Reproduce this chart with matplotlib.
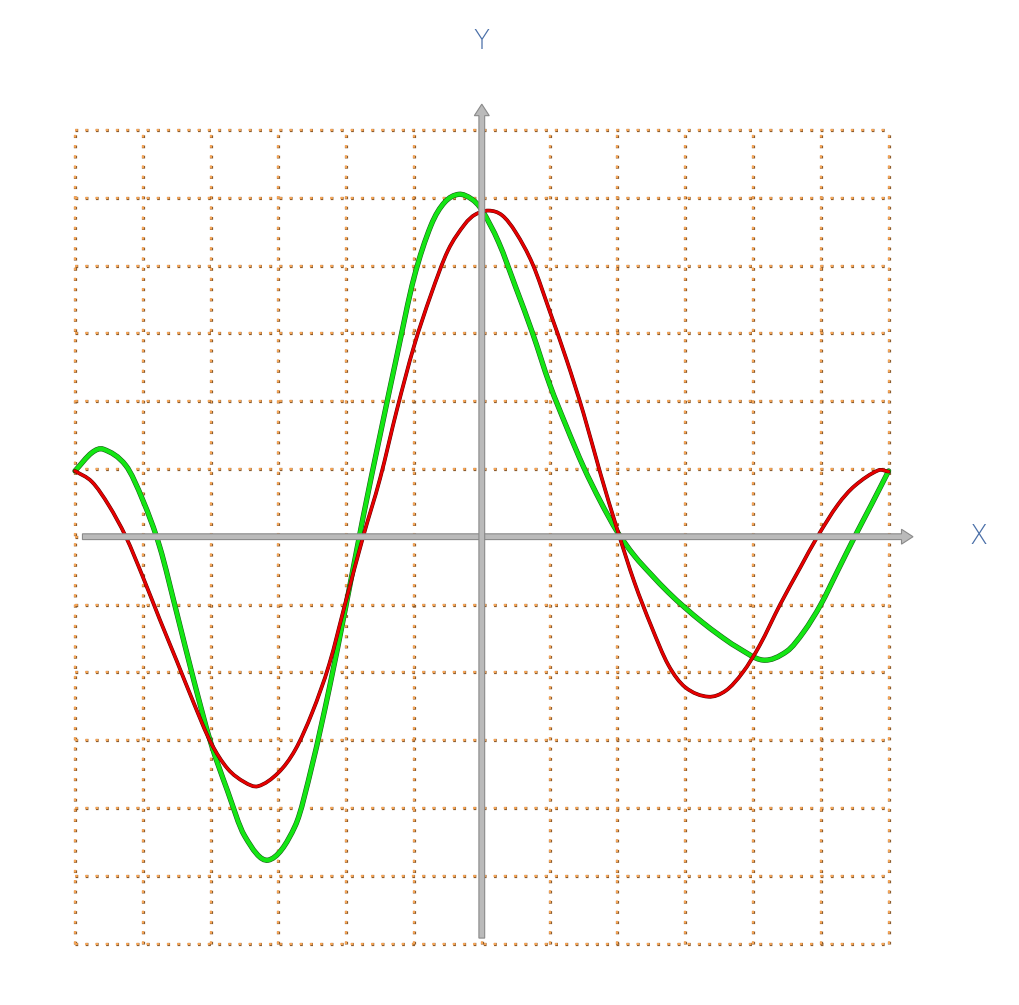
import matplotlib
matplotlib.use("Agg")
import matplotlib.pyplot as plt
import matplotlib.patheffects as pe
from matplotlib.path import Path
from matplotlib.patches import PathPatch
import numpy as np

# values (grid units, origin in the middle)
red_x = [-6.0, -5.75, -5.5, -5.25, -5.0, -4.75, -4.5, -4.25, -4.0, -3.75, -3.5, -3.3,
         -3.0, -2.75, -2.5, -2.25, -2.0, -1.75, -1.5, -1.25, -1.0, -0.75, -0.5,
         -0.25, -0.1, 0.1, 0.3, 0.5, 0.75, 1.0, 1.25, 1.5, 1.75, 2.0, 2.25, 2.5, 2.75,
         3.0, 3.34, 3.6, 3.85, 4.1, 4.4, 4.7, 4.95, 5.25, 5.5, 5.85, 6.0]
red_y = [0.97, 0.81, 0.46, 0.0, -0.59, -1.22, -1.83, -2.45, -3.03, -3.42, -3.62, -3.68,
         -3.48, -3.14, -2.59, -1.88, -0.93, 0.0, 0.86, 1.88, 2.81, 3.57, 4.22,
         4.61, 4.75, 4.81, 4.74, 4.49, 4.02, 3.33, 2.61, 1.82, 0.93, 0.10, -0.67, -1.32, -1.89,
         -2.22, -2.36, -2.27, -2.0, -1.6, -1.0, -0.45, 0.0, 0.47, 0.75, 0.98, 0.96]

green_x = [-6.0, -5.75, -5.58, -5.25, -5.0, -4.75, -4.5, -4.25, -4.0, -3.75, -3.5,
           -3.15, -2.75, -2.5, -2.25, -2.0, -1.75, -1.5, -1.25, -1.0, -0.75, -0.55,
           -0.34, -0.15, 0.0, 0.25, 0.5, 0.75, 1.0, 1.25, 1.5, 1.75, 2.0, 2.25, 2.5,
           2.75, 3.0, 3.25, 3.5, 3.75, 4.15, 4.5, 4.75, 5.0, 5.25, 5.5, 5.75, 6.0]
green_y = [0.97, 1.24, 1.29, 1.05, 0.54, -0.15, -1.12, -2.11, -3.03, -3.75, -4.41,
           -4.77, -4.26, -3.36, -2.24, -1.0, 0.29, 1.5, 2.68, 3.82, 4.59, 4.93,
           5.05, 4.98, 4.82, 4.34, 3.68, 3.0, 2.25, 1.62, 1.03, 0.52, 0.07, -0.28, -0.56,
           -0.82, -1.05, -1.26, -1.45, -1.62, -1.82, -1.69, -1.40, -1.0, -0.50, 0.0, 0.48, 0.97]

grid_ticks = list(range(-6, 7))


def smooth_path(xs, ys):
    # cubic bezier segments through the read points (hermite, slopes from neighbours)
    xs = np.asarray(xs, float)
    ys = np.asarray(ys, float)
    n = len(xs)
    m = np.empty(n)
    m[0] = (ys[1] - ys[0]) / (xs[1] - xs[0])
    m[-1] = (ys[-1] - ys[-2]) / (xs[-1] - xs[-2])
    m[1:-1] = (ys[2:] - ys[:-2]) / (xs[2:] - xs[:-2])
    verts = [(xs[0], ys[0])]
    codes = [Path.MOVETO]
    for i in range(n - 1):
        h = xs[i + 1] - xs[i]
        verts += [(xs[i] + h / 3, ys[i] + m[i] * h / 3),
                  (xs[i + 1] - h / 3, ys[i + 1] - m[i + 1] * h / 3),
                  (xs[i + 1], ys[i + 1])]
        codes += [Path.CURVE4] * 3
    return Path(verts, codes)


fig = plt.figure(figsize=(10.2, 10.05), dpi=100)
ax = fig.add_axes([0, 0, 1, 1])
ax.set_xlim(-7.106, 7.938)
ax.set_ylim(-6.907, 7.916)
ax.axis('off')

# dotted grid
dots = [pe.Stroke(linewidth=2.3, foreground='#8a5a2c'), pe.Normal()]
for t in grid_ticks:
    ax.plot([t, t], [-6, 6], color='#f4a456', lw=1.5, linestyle=(0, (1.3, 3.6)),
            dash_capstyle='butt', zorder=1, path_effects=dots)
    ax.plot([-6, 6], [t, t], color='#f4a456', lw=1.5, linestyle=(0, (1.3, 3.6)),
            dash_capstyle='butt', zorder=1, path_effects=dots)

# curves
ax.add_patch(PathPatch(smooth_path(green_x, green_y), fill=False, ec='#14e614', lw=3.0,
                       capstyle='round', zorder=3,
                       path_effects=[pe.Stroke(linewidth=3.8, foreground='#1a5a1a'), pe.Normal()]))
ax.add_patch(PathPatch(smooth_path(red_x, red_y), fill=False, ec='#e60000', lw=2.0,
                       capstyle='round', zorder=4,
                       path_effects=[pe.Stroke(linewidth=2.7, foreground='#5a0000'), pe.Normal()]))

# axes with arrows
ax.arrow(-5.89, 0, 12.25, 0, width=0.085, head_width=0.22, head_length=0.17,
         length_includes_head=True, fc='#bababa', ec='#8a8a8a', lw=0.8, zorder=5)
ax.arrow(0, -5.92, 0, 12.30, width=0.085, head_width=0.22, head_length=0.17,
         length_includes_head=True, fc='#bababa', ec='#8a8a8a', lw=0.8, zorder=5)

ax.text(7.32, 0.0, 'X', fontsize=19, color='#4a6fa8', fontweight='light',
        ha='center', va='center')
ax.text(0.0, 7.30, 'Y', fontsize=19, color='#4a6fa8', fontweight='light',
        ha='center', va='center')

fig.savefig('out.png', dpi=100)
